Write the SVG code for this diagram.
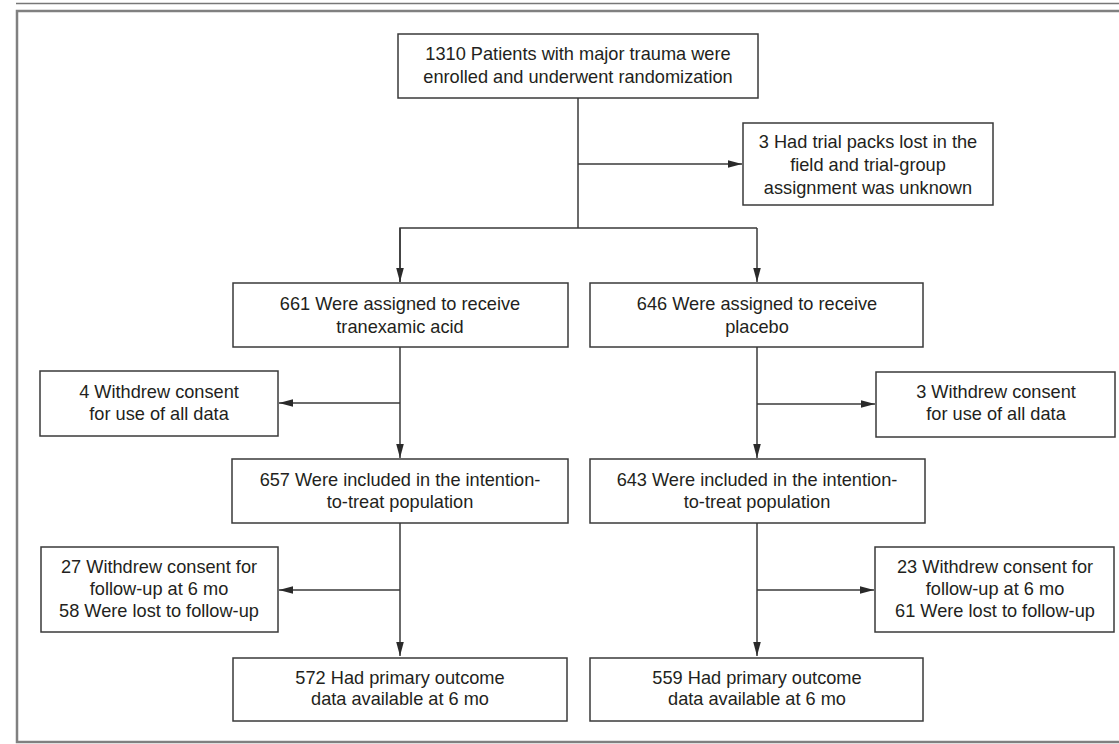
<svg xmlns="http://www.w3.org/2000/svg" width="1119" height="744" viewBox="0 0 1119 744">
<style>
.box{fill:#fff;stroke:#3a3a3a;stroke-width:1.5}
.t{font-family:"Liberation Sans",Arial,sans-serif;font-size:18.2px;fill:#231f20;text-anchor:middle}
.ln{fill:none;stroke:#3a3a3a;stroke-width:1.5}
</style>
<defs>
<marker id="ah" viewBox="0 0 14 10" refX="14" refY="5" markerWidth="14" markerHeight="10" markerUnits="userSpaceOnUse" orient="auto">
<path d="M0,1.2 L14,5 L0,8.8 z" fill="#2a2a2a"/>
</marker>
</defs>
<rect width="1119" height="744" fill="#fff"/>
<line x1="16" y1="3.5" x2="1119" y2="3.5" stroke="#777" stroke-width="1.5"/>
<rect x="17" y="11" width="1110" height="731" fill="none" stroke="#808080" stroke-width="2.5"/>

<g id="connectors">
<path class="ln" d="M578,98 V228"/>
<path class="ln" d="M578,164 H742" marker-end="url(#ah)"/>
<path class="ln" d="M400,282 V228 H757"/>
<path class="ln" d="M400,228 V282" marker-end="url(#ah)"/>
<path class="ln" d="M757,228 V282" marker-end="url(#ah)"/>
<path class="ln" d="M400,347 V458" marker-end="url(#ah)"/>
<path class="ln" d="M400,403 H279" marker-end="url(#ah)"/>
<path class="ln" d="M757,347 V458" marker-end="url(#ah)"/>
<path class="ln" d="M757,404 H875" marker-end="url(#ah)"/>
<path class="ln" d="M400,523 V656" marker-end="url(#ah)"/>
<path class="ln" d="M400,590 H279" marker-end="url(#ah)"/>
<path class="ln" d="M757,523 V656" marker-end="url(#ah)"/>
<path class="ln" d="M757,590 H874" marker-end="url(#ah)"/>
</g>

<g id="n-enrolled">
<rect class="box" x="398" y="34" width="360" height="64"/>
<text class="t" x="578" y="60">1310 Patients with major trauma were</text>
<text class="t" x="578" y="83">enrolled and underwent randomization</text>
</g>
<g id="n-lost">
<rect class="box" x="743" y="123" width="250" height="82"/>
<text class="t" x="868" y="148">3 Had trial packs lost in the</text>
<text class="t" x="868" y="171">field and trial-group</text>
<text class="t" x="868" y="194">assignment was unknown</text>
</g>
<g id="n-txa">
<rect class="box" x="233" y="283" width="335" height="64"/>
<text class="t" x="400" y="310">661 Were assigned to receive</text>
<text class="t" x="400" y="333">tranexamic acid</text>
</g>
<g id="n-placebo">
<rect class="box" x="590" y="283" width="333" height="64"/>
<text class="t" x="757" y="310">646 Were assigned to receive</text>
<text class="t" x="757" y="333">placebo</text>
</g>
<g id="n-wd-l">
<rect class="box" x="40" y="371" width="238" height="65"/>
<text class="t" x="159" y="398">4 Withdrew consent</text>
<text class="t" x="159" y="420">for use of all data</text>
</g>
<g id="n-wd-r">
<rect class="box" x="876" y="372" width="239" height="65"/>
<text class="t" x="996" y="398">3 Withdrew consent</text>
<text class="t" x="996" y="420">for use of all data</text>
</g>
<g id="n-itt-l">
<rect class="box" x="232" y="459" width="336" height="64"/>
<text class="t" x="400" y="486">657 Were included in the intention-</text>
<text class="t" x="400" y="508">to-treat population</text>
</g>
<g id="n-itt-r">
<rect class="box" x="590" y="459" width="335" height="64"/>
<text class="t" x="757" y="486">643 Were included in the intention-</text>
<text class="t" x="757" y="508">to-treat population</text>
</g>
<g id="n-fu-l">
<rect class="box" x="41" y="547" width="237" height="85"/>
<text class="t" x="159" y="573">27 Withdrew consent for</text>
<text class="t" x="159" y="595">follow-up at 6 mo</text>
<text class="t" x="159" y="617">58 Were lost to follow-up</text>
</g>
<g id="n-fu-r">
<rect class="box" x="875" y="547" width="239" height="85"/>
<text class="t" x="995" y="573">23 Withdrew consent for</text>
<text class="t" x="995" y="595">follow-up at 6 mo</text>
<text class="t" x="995" y="617">61 Were lost to follow-up</text>
</g>
<g id="n-out-l">
<rect class="box" x="233" y="658" width="334" height="63"/>
<text class="t" x="400" y="684">572 Had primary outcome</text>
<text class="t" x="400" y="705">data available at 6 mo</text>
</g>
<g id="n-out-r">
<rect class="box" x="590" y="658" width="333" height="63"/>
<text class="t" x="757" y="684">559 Had primary outcome</text>
<text class="t" x="757" y="705">data available at 6 mo</text>
</g>
</svg>
